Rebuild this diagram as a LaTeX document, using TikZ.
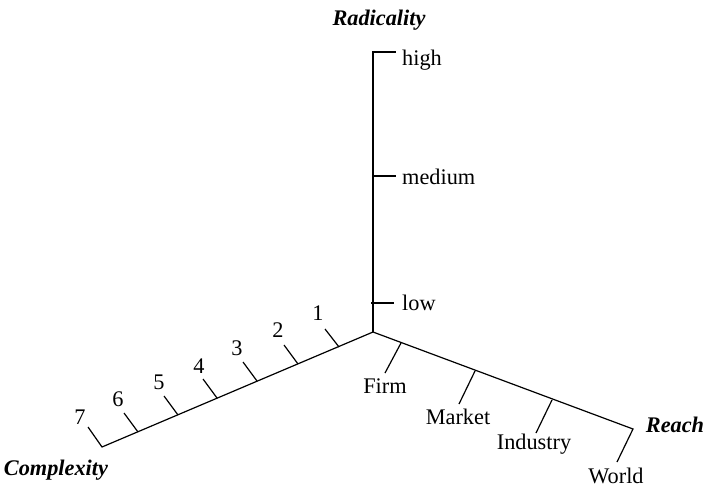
\documentclass[tikz,border=0pt]{standalone}
\usepackage{fontspec}
\setmainfont{Liberation Serif}
\begin{document}
\begin{tikzpicture}[x=1pt,y=-1pt,
  axis/.style={line width=1.2pt,line cap=butt,line join=miter},
  lbl/.style={inner sep=0pt,font=\fontsize{22.3}{26}\selectfont},
  ttl/.style={inner sep=0pt,font=\fontsize{22.3}{26}\selectfont\bfseries\itshape}]
\useasboundingbox (0,0) rectangle (703,487);
% origin
\coordinate (O) at (373,332);
% Radicality axis
\coordinate (Rtop) at (373,52);
\coordinate (Rhigh) at (396,52);
\coordinate (Rmed0) at (373,176);
\coordinate (Rmed) at (396,176);
\coordinate (Rlow0) at (371,303);
\coordinate (Rlow) at (394,303);
\draw[axis] (O) -- (Rtop) -- (Rhigh);
\draw[axis] (Rmed0) -- (Rmed);
\draw[axis] (Rlow0) -- (Rlow);
\node[ttl,anchor=base] (radt) at (379,26) {Radicality};
\node[lbl,anchor=base west] (high) at (402,65) {high};
\node[lbl,anchor=base west] (medium) at (402,184) {medium};
\node[lbl,anchor=base west] (low) at (402,310) {low};
% Reach axis
\coordinate (Wend) at (633,429);
\coordinate (Wtip) at (617,462);
\draw[axis] (O) -- (Wend) -- (Wtip);
\coordinate (F0) at (401,343);
\coordinate (F1) at (385,373);
\coordinate (M0) at (475,371);
\coordinate (M1) at (459,404);
\coordinate (I0) at (552,400);
\coordinate (I1) at (536,433);
\draw[axis] (F0) -- (F1);
\draw[axis] (M0) -- (M1);
\draw[axis] (I0) -- (I1);
\node[lbl,anchor=base] (firm) at (385,393) {Firm};
\node[lbl,anchor=base] (market) at (458,424) {Market};
\node[lbl,anchor=base] (industry) at (534,449) {Industry};
\node[lbl,anchor=base] (world) at (616,483) {World};
\node[ttl,anchor=base] (reach) at (675,432) {Reach};
% Complexity axis
\coordinate (Cend) at (102,447);
\coordinate (Ctip) at (88,427);
\draw[axis] (O) -- (Cend) -- (Ctip);
\foreach \i/\ax/\ay/\bx/\by in {1/339/347/325/329, 2/298/364/284/345, 3/257/381/243/362, 4/217/398/203/379, 5/178/415/164/396, 6/138/432/124/413}{
  \coordinate (c\i a) at (\ax,\ay);
  \coordinate (c\i b) at (\bx,\by);
  \draw[axis] (c\i a) -- (c\i b);
}
\node[lbl,anchor=base] (n1) at (318,320) {1};
\node[lbl,anchor=base] (n2) at (278,337) {2};
\node[lbl,anchor=base] (n3) at (237,355) {3};
\node[lbl,anchor=base] (n4) at (199,373) {4};
\node[lbl,anchor=base] (n5) at (159,389) {5};
\node[lbl,anchor=base] (n6) at (118,406) {6};
\node[lbl,anchor=base] (n7) at (80,424) {7};
\node[ttl,anchor=base] (cplx) at (56,475) {Complexity};
\end{tikzpicture}
\end{document}
